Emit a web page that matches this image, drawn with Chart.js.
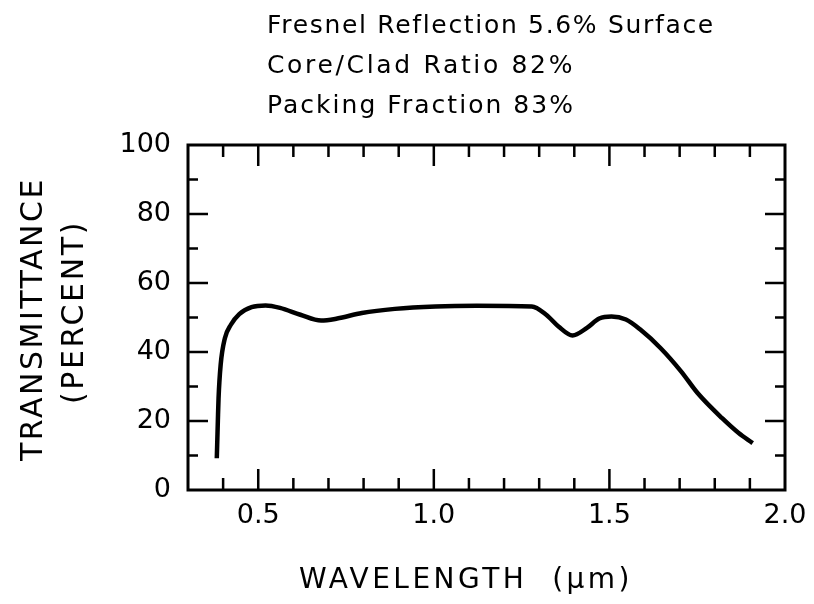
<!DOCTYPE html>
<html>
<head>
<meta charset="utf-8">
<script src="https://cdn.jsdelivr.net/npm/chart.js@4.4.0/dist/chart.umd.min.js"></script>
<style>
  body { margin: 0; background: #fff; }
  #wrap { width: 814px; height: 604px; }
</style>
</head>
<body>
<div id="wrap"><canvas id="myChart" width="814" height="604"></canvas></div>
<script>
// values
var wavelength = [0.382, 0.385, 0.387, 0.393, 0.405, 0.422, 0.446, 0.481, 0.521, 0.562, 0.62, 0.679, 0.725, 0.795, 0.889, 1.005, 1.122, 1.279, 1.32, 1.355, 1.395, 1.436, 1.471, 1.506, 1.547, 1.588, 1.646, 1.704, 1.751, 1.821, 1.868, 1.908];
var transmittance = [9.2, 20, 26.6, 36.3, 44.0, 47.9, 51.0, 53.0, 53.5, 52.8, 50.8, 49.1, 49.7, 51.3, 52.5, 53.2, 53.4, 53.2, 50.8, 47.4, 44.8, 47.0, 49.7, 50.3, 49.4, 46.5, 41.1, 34.4, 28.1, 20.8, 16.5, 13.6];
var xTickLabels = [0.5, 1.0, 1.5, 2.0];
var yTickLabels = [0, 20, 40, 60, 80, 100];
var notes = ['Fresnel Reflection 5.6% Surface', 'Core/Clad Ratio 82%', 'Packing Fraction 83%'];
var xTitle = 'WAVELENGTH  (\u03bcm)';
var yTitle = ['TRANSMITTANCE', '(PERCENT)'];

var FONT = '"DejaVu Sans", sans-serif';

// draw text stretched to a given width with letter spacing
function spacedText(ctx, text, x, y, width) {
    ctx.letterSpacing = '0px';
    var w = ctx.measureText(text).width;
    var sp = (width - w) / text.length;
    ctx.letterSpacing = sp.toFixed(2) + 'px';
    ctx.fillText(text, x, y);
    ctx.letterSpacing = '0px';
}

var framePlugin = {
    id: 'frame',
    afterDatasetsDraw: function (chart) {
        var ctx = chart.ctx;
        var a = chart.chartArea;
        var xs = chart.scales.x, ys = chart.scales.y;
        ctx.save();
        ctx.strokeStyle = '#000';
        ctx.lineWidth = 3;
        ctx.strokeRect(a.left, a.top, a.right - a.left, a.bottom - a.top);
        ctx.lineWidth = 2.5;
        ctx.beginPath();
        // inward ticks, x every 0.1
        for (var i = 4; i < 20; i++) {
            var v = i / 10;
            var px = xs.getPixelForValue(v);
            var len = (i % 5 === 0) ? 21 : 12;
            ctx.moveTo(px, a.bottom); ctx.lineTo(px, a.bottom - len);
            ctx.moveTo(px, a.top); ctx.lineTo(px, a.top + len);
        }
        // y every 10
        for (var j = 1; j < 10; j++) {
            var py = ys.getPixelForValue(j * 10);
            var l = (j % 2 === 0) ? 20 : 10;
            ctx.moveTo(a.left, py); ctx.lineTo(a.left + l, py);
            ctx.moveTo(a.right, py); ctx.lineTo(a.right - l, py);
        }
        ctx.stroke();

        // text
        ctx.fillStyle = '#000';
        ctx.textBaseline = 'alphabetic';
        ctx.textAlign = 'left';
        ctx.font = '25px ' + FONT;
        spacedText(ctx, notes[0], 267, 33, 448);
        spacedText(ctx, notes[1], 267, 73, 308);
        spacedText(ctx, notes[2], 267, 113, 308);

        ctx.font = '28px ' + FONT;
        spacedText(ctx, xTitle, 299, 588, 334);

        ctx.rotate(-Math.PI / 2);
        ctx.font = '30px ' + FONT;
        // rotated: x' = -y, y' = x
        spacedText(ctx, yTitle[0], -461, 42, 284);
        spacedText(ctx, yTitle[1], -404, 83, 184);
        ctx.restore();
    }
};

var ctx = document.getElementById('myChart').getContext('2d');
var chart = new Chart(ctx, {
    type: 'line',
    data: {
        datasets: [{
            data: wavelength.map(function (w, i) { return { x: w, y: transmittance[i] }; }),
            borderColor: '#000',
            borderWidth: 4.5,
            pointRadius: 0,
            fill: false,
            cubicInterpolationMode: 'monotone'
        }]
    },
    options: {
        responsive: false,
        animation: false,
        layout: { padding: { top: 145, right: 29, left: 0, bottom: 0 } },
        plugins: { legend: { display: false }, tooltip: { enabled: false } },
        scales: {
            x: {
                type: 'linear',
                min: 0.3,
                max: 2.0,
                grid: { display: false },
                border: { display: false },
                afterBuildTicks: function (scale) {
                    scale.ticks = xTickLabels.map(function (v) { return { value: v }; });
                },
                afterFit: function (scale) { scale.height = 114; },
                ticks: {
                    color: '#000',
                    padding: 2,
                    font: { family: FONT, size: 27 },
                    callback: function (v) { return Number(v).toFixed(1); }
                }
            },
            y: {
                min: 0,
                max: 100,
                grid: { display: false },
                border: { display: false },
                afterBuildTicks: function (scale) {
                    scale.ticks = yTickLabels.map(function (v) { return { value: v }; });
                },
                afterFit: function (scale) { scale.width = 188; },
                ticks: {
                    color: '#000',
                    padding: 9,
                    font: { family: FONT, size: 27 }
                }
            }
        }
    },
    plugins: [framePlugin]
});
</script>
</body>
</html>
